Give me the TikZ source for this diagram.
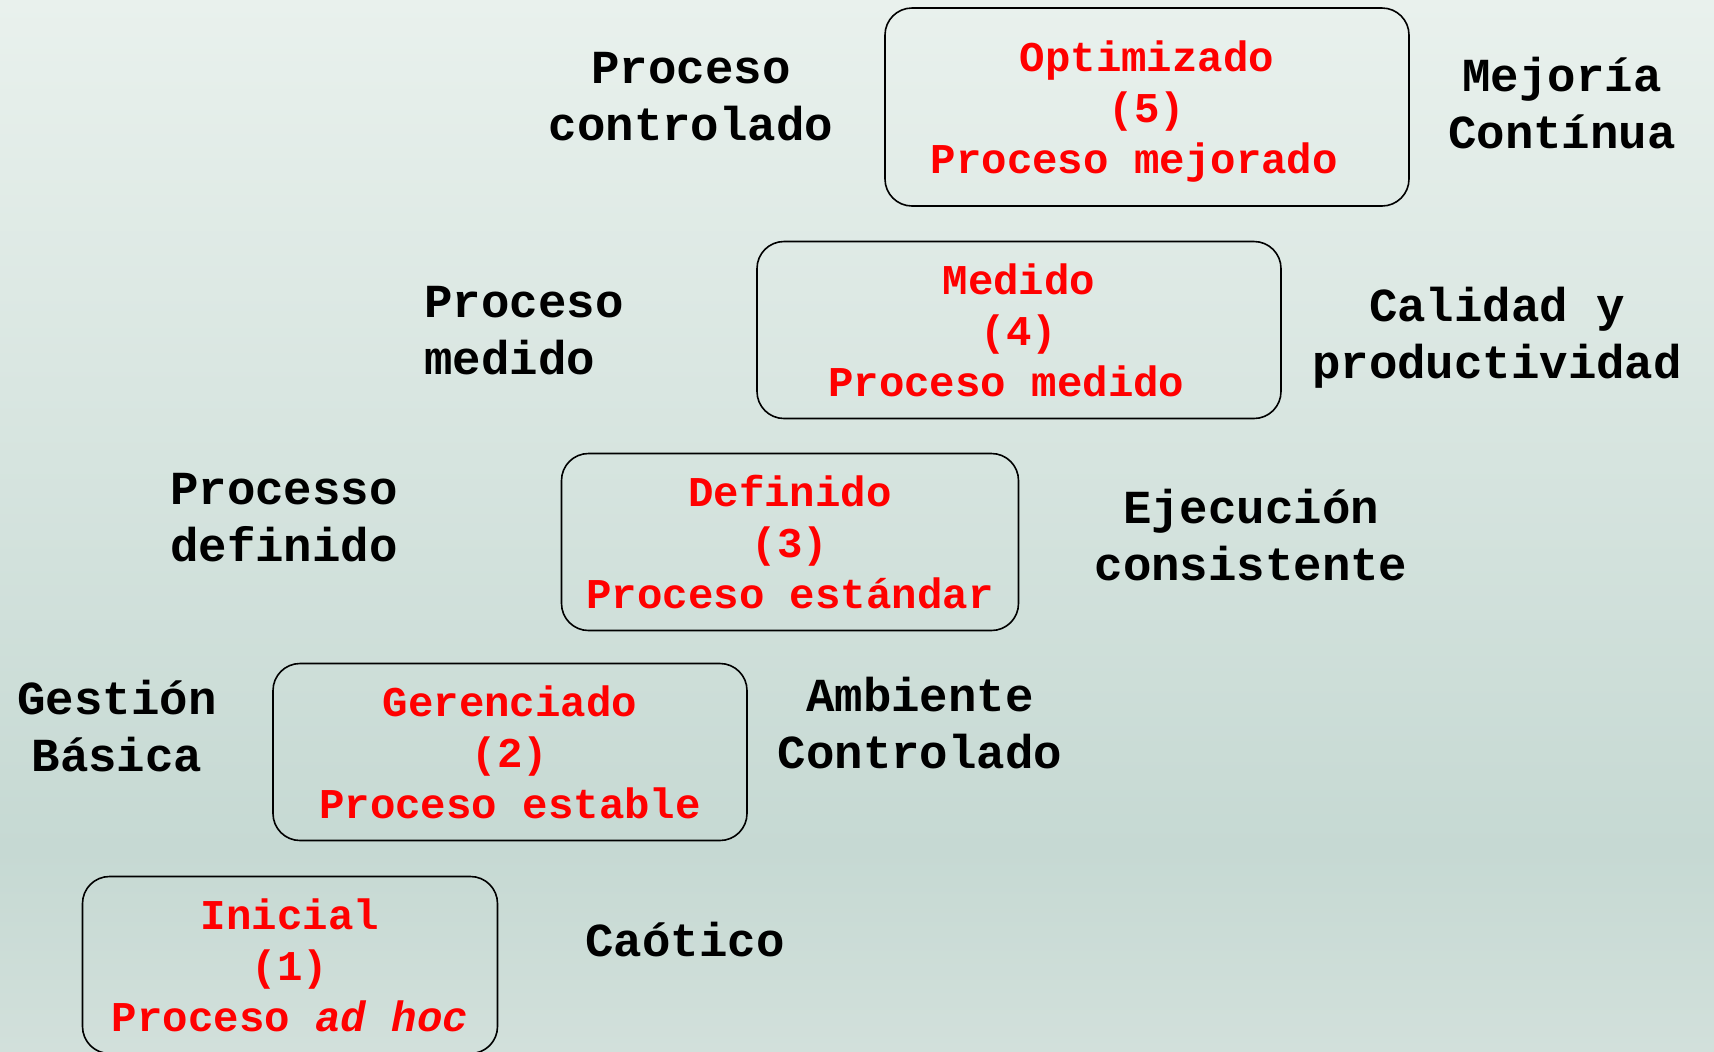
\documentclass[tikz,border=0pt]{standalone}
\usepackage{fontspec}
\setmainfont{Liberation Mono}
\usetikzlibrary{positioning}
\definecolor{cmmred}{RGB}{255,0,0}
\definecolor{cmmtop}{HTML}{E9F1ED}
\definecolor{cmmmid}{HTML}{C6D9D3}
\definecolor{cmmbot}{HTML}{D2E0DB}

\begin{document}
\begin{tikzpicture}[x=0.5pt, y=-0.5pt,
    nivel/.style={draw=black, line width=0.8pt, rounded corners=13.5pt, align=center,
      text=cmmred, inner sep=0pt, font=\fontsize{21.2}{25.5}\selectfont\bfseries},
    rotulo/.style={align=center, inner sep=0pt, font=\fontsize{23.7}{28.5}\selectfont\bfseries}]
  \useasboundingbox (0,0) rectangle (1714,1051);
  \shade[top color=cmmtop, bottom color=cmmmid] (0,0) rectangle (1714,850);
  \shade[top color=cmmmid, bottom color=cmmbot] (0,850) rectangle (1714,1051);
  % niveles
  \foreach \n/\x/\y/\w/\h/\txt in {
    5/1147/107/524/198/{\raisebox{0pt}[\dimexpr\height+4.4pt\relax]{Optimizado}\\(5)\\Proceso mejorado\hphantom{x}},
    4/1019/330/524/177/{Medido\\(4)\\Proceso medido\hphantom{x}},
    3/790/542/457/177/{Definido\\(3)\\Proceso estándar},
    2/510/752/474/177/{Gerenciado\\(2)\\Proceso estable},
    1/290/965/415/177/{Inicial\\(1)\\Proceso \textit{ad hoc}}}
    \node[nivel, minimum width=\w*0.5pt, minimum height=\h*0.5pt] (n\n) at (\x,\y) {\txt};
  % rotulos
  \node[rotulo] (l5) at (691,97) {Proceso\\controlado};
  \node[rotulo] (r5) at (1562,103) {Mejoría\\Contínua};
  \node[rotulo, align=left, anchor=west] (l4) at (424,331) {Proceso\\medido};
  \node[rotulo] (r4) at (1497,338) {Calidad y\\productividad};
  \node[rotulo] (l3) at (284,518) {Processo\\definido};
  \node[rotulo] (r3) at (1251,535) {Ejecución\\consistente};
  \node[rotulo] (l2) at (117,726) {Gestión\\Básica};
  \node[rotulo] (r2) at (920,723) {Ambiente\\Controlado};
  \node[rotulo] (r1) at (685,940) {Caótico};
\end{tikzpicture}
\end{document}
